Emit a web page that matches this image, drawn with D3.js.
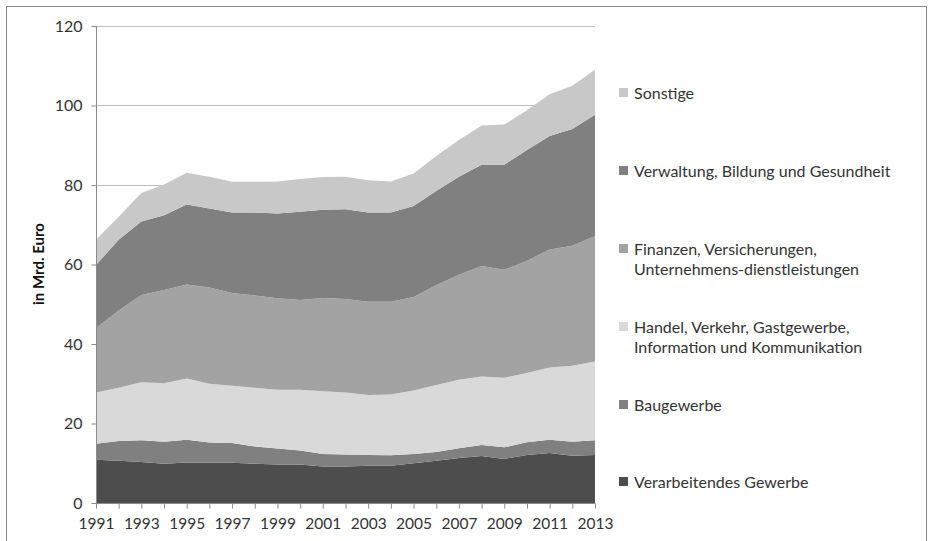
<!DOCTYPE html>
<html>
<head>
<meta charset="utf-8">
<script src="https://cdn.jsdelivr.net/npm/d3@7"></script>
<style>
  body { margin: 0; background: #fff; }
  text { font-family: Lato, "Open Sans", sans-serif; fill: #333; }
</style>
</head>
<body>
<script>
var years = [1991, 1992, 1993, 1994, 1995, 1996, 1997, 1998, 1999, 2000, 2001, 2002,
             2003, 2004, 2005, 2006, 2007, 2008, 2009, 2010, 2011, 2012, 2013];

// series, bottom to top (in Mrd. Euro)
var verarbeitendes = [10.9, 10.6, 10.3, 9.9, 10.2, 10.1, 10.1, 9.9, 9.7, 9.7, 9.2, 9.2,
                      9.4, 9.4, 10.0, 10.6, 11.3, 11.8, 11.1, 12.1, 12.6, 11.9, 12.1];
var baugewerbe = [4.0, 5.0, 5.5, 5.5, 5.7, 5.1, 5.0, 4.3, 4.0, 3.5, 3.1, 3.0,
                  2.7, 2.6, 2.3, 2.2, 2.5, 2.8, 2.9, 3.2, 3.3, 3.5, 3.7];
var handel = [12.9, 13.4, 14.6, 14.7, 15.4, 14.8, 14.4, 14.8, 14.8, 15.3, 15.8, 15.6,
              15.1, 15.3, 16.0, 16.9, 17.2, 17.2, 17.5, 17.4, 18.2, 19.1, 19.8];
var finanzen = [16.2, 19.4, 21.9, 23.5, 23.7, 24.2, 23.3, 23.2, 23.0, 22.6, 23.5, 23.5,
                23.4, 23.3, 23.5, 25.1, 26.4, 27.8, 27.2, 28.2, 29.7, 30.2, 31.6];
var verwaltung = [15.9, 17.8, 18.5, 18.8, 20.1, 19.9, 20.3, 20.9, 21.3, 22.2, 22.2, 22.6,
                  22.5, 22.5, 22.9, 23.7, 24.7, 25.5, 26.4, 27.9, 28.5, 29.4, 30.5];
var sonstige = [6.3, 5.8, 7.2, 7.7, 8.0, 8.0, 7.7, 7.7, 8.1, 8.2, 8.2, 8.2,
                8.1, 7.8, 8.2, 8.8, 9.2, 9.9, 10.1, 10.0, 10.5, 10.9, 11.3];

var keys = ["verarbeitendes", "baugewerbe", "handel", "finanzen", "verwaltung", "sonstige"];
var seriesValues = [verarbeitendes, baugewerbe, handel, finanzen, verwaltung, sonstige];
var colors = ["#4d4d4d", "#808080", "#d9d9d9", "#a3a3a3", "#808080", "#c8c8c8"];

// legend, top to bottom
var legendLabels = [
  ["Sonstige"],
  ["Verwaltung, Bildung und Gesundheit"],
  ["Finanzen, Versicherungen,", "Unternehmens-dienstleistungen"],
  ["Handel, Verkehr, Gastgewerbe,", "Information und Kommunikation"],
  ["Baugewerbe"],
  ["Verarbeitendes Gewerbe"]
];
var legendColors = ["#c8c8c8", "#808080", "#a3a3a3", "#d9d9d9", "#808080", "#4d4d4d"];

var yTicks = [0, 20, 40, 60, 80, 100, 120];
var xTickLabels = [1991, 1993, 1995, 1997, 1999, 2001, 2003, 2005, 2007, 2009, 2011, 2013];

render();

function render(){
  var w = 928, h = 541;
  var left = 96, right = 595, top = 26, bottom = 503;

  var svg = d3.select("body").append("svg").attr("width", w).attr("height", h);

  svg.append("rect")
    .attr("x", 6.5).attr("y", 6.5)
    .attr("width", 920).attr("height", 600)
    .attr("fill", "none").attr("stroke", "#8c8c8c");

  var x = d3.scaleLinear().domain([1991, 2013]).range([left, right]);
  var y = d3.scaleLinear().domain([0, 120]).range([bottom, top]);

  var table = years.map(function(yr, i){
    var row = { year: yr };
    keys.forEach(function(k, j){ row[k] = seriesValues[j][i]; });
    return row;
  });

  var stacked = d3.stack().keys(keys)(table);

  // gridlines
  svg.append("g").selectAll("line").data(yTicks.slice(1)).enter().append("line")
    .attr("x1", left).attr("x2", right)
    .attr("y1", function(d){ return Math.round(y(d)) + 0.5; })
    .attr("y2", function(d){ return Math.round(y(d)) + 0.5; })
    .attr("stroke", "#bfbfbf");

  var area = d3.area()
    .x(function(d){ return x(d.data.year); })
    .y0(function(d){ return y(d[0]); })
    .y1(function(d){ return y(d[1]); });

  svg.append("g").selectAll("path").data(stacked).enter().append("path")
    .attr("d", area)
    .attr("fill", function(d, i){ return colors[i]; });

  // y axis
  var yAxis = svg.append("g")
    .attr("transform", "translate(" + (left + 0.5) + ",0)")
    .call(d3.axisLeft(y).tickValues(yTicks).tickSize(5).tickPadding(9));
  yAxis.selectAll("line, path").attr("stroke", "#8c8c8c");
  yAxis.selectAll("text").attr("font-size", "16px").style("fill", "#333");
  yAxis.select(".domain").attr("d", "M0," + top + "V" + bottom);

  // x axis
  var xAxis = svg.append("g")
    .attr("transform", "translate(0," + (bottom + 0.5) + ")")
    .call(d3.axisBottom(x).tickValues(years).tickSize(5).tickPadding(9)
      .tickFormat(function(d){ return xTickLabels.indexOf(d) >= 0 ? d : ""; }));
  xAxis.selectAll("line, path").attr("stroke", "#8c8c8c");
  xAxis.selectAll("text").attr("font-size", "15.5px").style("fill", "#333");
  xAxis.select(".domain").attr("d", "M" + left + ",0H" + right);

  svg.append("text")
    .attr("transform", "translate(44," + 264 + ") rotate(-90)")
    .attr("text-anchor", "middle")
    .attr("font-size", "15px")
    .attr("font-weight", "bold")
    .style("fill", "#111")
    .text("in Mrd. Euro");

  // legend
  var legendY = [93, 171, 249, 327, 405, 482];
  var lg = svg.append("g").selectAll("g").data(legendLabels).enter().append("g")
    .attr("transform", function(d, i){ return "translate(619," + legendY[i] + ")"; });

  lg.append("rect")
    .attr("x", 0).attr("y", -5)
    .attr("width", 9).attr("height", 9)
    .attr("fill", function(d, i){ return legendColors[i]; });

  lg.selectAll("text").data(function(d){ return d; }).enter().append("text")
    .attr("x", 15)
    .attr("y", function(d, i){ return i * 20; })
    .attr("dy", "0.35em")
    .attr("font-size", "16px")
    .text(function(d){ return d; });
}
</script>
</body>
</html>
